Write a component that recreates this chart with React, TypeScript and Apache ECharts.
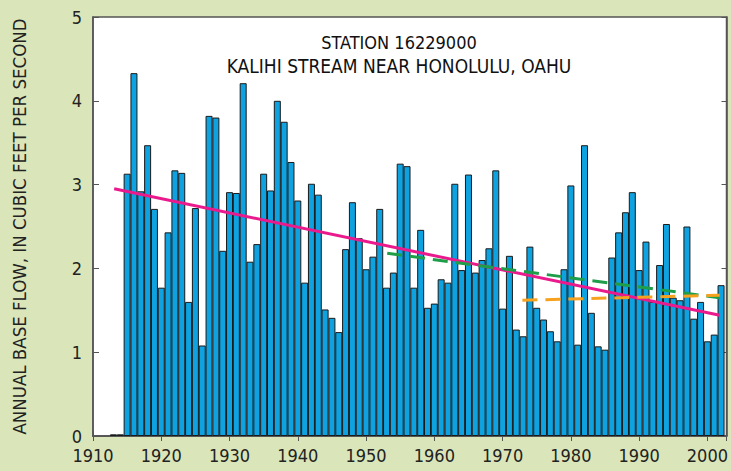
import React, { useEffect, useRef } from "react";
import * as echarts from "echarts";

const years: number[] = [];
for (let y = 1913; y <= 2002; y++) years.push(y);

const baseFlow: number[] = [
  0.02, 0.02, 3.13, 4.33, 2.92, 3.47, 2.71, 1.77, 2.43, 3.17,
  3.14, 1.6, 2.72, 1.08, 3.82, 3.8, 2.21, 2.91, 2.9, 4.21,
  2.08, 2.29, 3.13, 2.93, 4.0, 3.75, 3.27, 2.81, 1.83, 3.01,
  2.88, 1.51, 1.41, 1.24, 2.23, 2.79, 2.36, 1.99, 2.14, 2.71,
  1.77, 1.95, 3.25, 3.22, 1.77, 2.46, 1.53, 1.58, 1.87, 1.83,
  3.01, 1.98, 3.12, 1.95, 2.1, 2.24, 3.17, 1.52, 2.15, 1.27,
  1.19, 2.26, 1.53, 1.39, 1.25, 1.13, 1.99, 2.99, 1.09, 3.47,
  1.47, 1.07, 1.03, 2.13, 2.43, 2.67, 2.91, 1.98, 2.32, 1.6,
  2.04, 2.53, 1.65, 1.62, 2.5, 1.4, 1.6, 1.13, 1.21, 1.8,
];

const trendAll: [number, number][] = [[1913.1, 2.95], [2001.8, 1.44]];
const trendFrom1953: [number, number][] = [[1953.1, 2.18], [2001.8, 1.65]];
const trendFrom1973: [number, number][] = [[1972.9, 1.62], [2001.8, 1.68]];

const titleLines = ["STATION 16229000", "KALIHI STREAM NEAR HONOLULU, OAHU"];
const yAxisTitle = "ANNUAL BASE FLOW, IN CUBIC FEET PER SECOND";

const FONT = "'Liberation Sans Narrow', 'DejaVu Sans Condensed', 'Arial Narrow', sans-serif";

export default function App() {
  const ref = useRef<HTMLDivElement>(null);
  useEffect(() => {
    if (!ref.current) return;
    const chart = echarts.init(ref.current, null, { renderer: "svg" });
    const barData = years.map((y, i) => [y, baseFlow[i]]);
    const axisLineStyle = { color: "#555", width: 1.5 };
    chart.setOption({
      animation: false,
      backgroundColor: "#dae6b9",
      textStyle: { fontFamily: FONT },
      grid: {
        left: 93,
        top: 17,
        right: -1,
        bottom: 35,
        show: true,
        backgroundColor: "#ffffff",
        borderColor: "#555",
        borderWidth: 1.5,
      },
      graphic: [
        {
          type: "text",
          x: 399,
          y: 42,
          style: {
            text: titleLines[0],
            textAlign: "center",
            textVerticalAlign: "middle",
            fontFamily: FONT,
            fontSize: 18,
            fill: "#111",
          },
        },
        {
          type: "text",
          x: 399,
          y: 66,
          style: {
            text: titleLines[1],
            textAlign: "center",
            textVerticalAlign: "middle",
            fontFamily: FONT,
            fontSize: 19,
            fill: "#111",
          },
        },
      ],
      xAxis: [
        {
          type: "value",
          min: 1910,
          max: 2002.8,
          interval: 10,
          position: "bottom",
          axisLine: { show: true, lineStyle: axisLineStyle },
          axisTick: { show: true, inside: true, length: 5, lineStyle: { color: "#555" } },
          axisLabel: {
            show: true,
            margin: 10,
            fontSize: 18,
            color: "#222",
            fontFamily: FONT,
            showMaxLabel: false,
            formatter: (v: number) => String(v),
          },
          splitLine: { show: false },
        },
        {
          type: "value",
          min: 1910,
          max: 2002.8,
          interval: 10,
          position: "top",
          axisLine: { show: true, lineStyle: axisLineStyle },
          axisTick: { show: true, inside: true, length: 5, lineStyle: { color: "#555" } },
          axisLabel: { show: false },
          splitLine: { show: false },
        },
      ],
      yAxis: [
        {
          type: "value",
          min: 0,
          max: 5,
          interval: 1,
          position: "left",
          name: yAxisTitle,
          nameLocation: "middle",
          nameRotate: 90,
          nameGap: 64,
          nameTextStyle: { fontSize: 18.5, color: "#222", fontFamily: FONT },
          axisLine: { show: true, lineStyle: axisLineStyle },
          axisTick: { show: true, inside: true, length: 6, lineStyle: { color: "#555" } },
          axisLabel: { fontSize: 18, color: "#222", margin: 11, fontFamily: FONT },
          splitLine: { show: false },
        },
        {
          type: "value",
          min: 0,
          max: 5,
          interval: 1,
          position: "right",
          axisLine: { show: true, lineStyle: axisLineStyle },
          axisTick: { show: true, inside: true, length: 5, lineStyle: { color: "#555" } },
          axisLabel: { show: false },
          splitLine: { show: false },
        },
      ],
      series: [
        {
          type: "bar",
          xAxisIndex: 0,
          yAxisIndex: 0,
          data: barData,
          barWidth: 7,
          itemStyle: { color: "#0ea2e0", borderColor: "#1a1a1a", borderWidth: 1 },
        },
        {
          type: "line",
          data: trendAll,
          showSymbol: false,
          lineStyle: { color: "#ea1a8c", width: 3 },
          z: 5,
        },
        {
          type: "line",
          data: trendFrom1953,
          showSymbol: false,
          lineStyle: { color: "#1f9e4a", width: 3, type: [15, 8] },
          z: 5,
        },
        {
          type: "line",
          data: trendFrom1973,
          showSymbol: false,
          lineStyle: { color: "#f7a21e", width: 3, type: [15, 8] },
          z: 5,
        },
      ],
    });
    return () => chart.dispose();
  }, []);
  return <div ref={ref} style={{ width: 731, height: 471, position: "fixed", left: 0, top: 0 }} />;
}
